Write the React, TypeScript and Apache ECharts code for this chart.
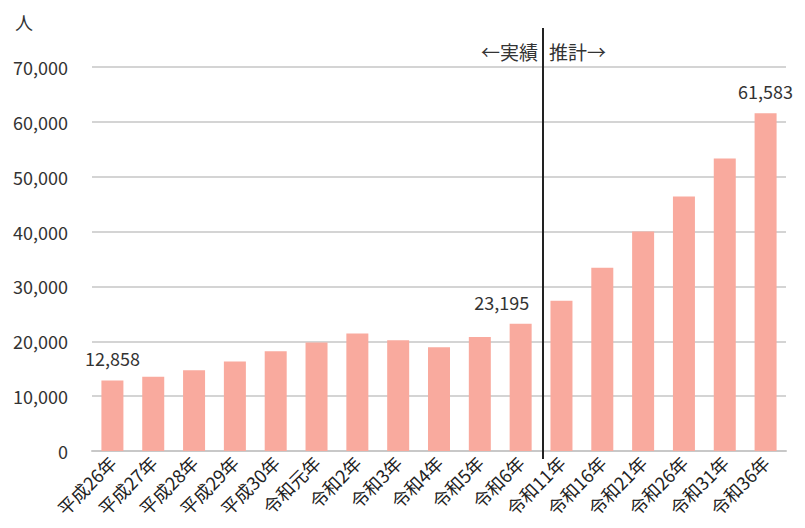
import React, { useEffect, useRef } from "react";
import * as echarts from "echarts";

const categories = [
  "平成26年", "平成27年", "平成28年", "平成29年", "平成30年", "令和元年",
  "令和2年", "令和3年", "令和4年", "令和5年", "令和6年",
  "令和11年", "令和16年", "令和21年", "令和26年", "令和31年", "令和36年",
];
const values = [
  12858, 13550, 14700, 16300, 18200, 19800, 21400, 20200, 18900, 20800, 23195,
  27400, 33400, 40000, 46400, 53300, 61583,
];
const labeledIndices = [0, 10, 16];
const yTicks = { min: 0, max: 70000, interval: 10000 };
const unitLabel = "人";
const actualLabel = "←実績";
const forecastLabel = "推計→";
const lastActualIndex = 10;

const fmt = (v: number) => String(v).replace(/\B(?=(\d{3})+(?!\d))/g, ",");
const FONT = "'Noto Sans CJK JP', 'Noto Sans', sans-serif";

export default function App() {
  const ref = useRef<HTMLDivElement>(null);
  useEffect(() => {
    if (!ref.current) return;
    const chart = echarts.init(ref.current, null, { renderer: "svg" });
    const data = values.map((v, i) => {
      if (!labeledIndices.includes(i)) return v;
      return {
        value: v,
        label: {
          show: true,
          position: "top",
          distance: 13,
          offset: i === lastActualIndex ? [-19, 0] : [0, 0],
          formatter: (p: any) => fmt(p.value),
          fontSize: 18,
          color: "#333",
          fontFamily: FONT,
        },
      };
    });
    chart.setOption({
      animation: false,
      backgroundColor: "#fff",
      grid: { left: 92, right: 19, top: 67, bottom: 77, containLabel: false },
      xAxis: {
        type: "category",
        data: categories,
        axisTick: { show: false },
        axisLine: { lineStyle: { color: "#c8c8c8", width: 2 } },
        axisLabel: {
          rotate: 45,
          interval: 0,
          margin: 8,
          fontSize: 18,
          color: "#222",
          fontFamily: FONT,
        },
      },
      yAxis: {
        type: "value",
        min: yTicks.min,
        max: yTicks.max,
        interval: yTicks.interval,
        axisLine: { show: false },
        axisTick: { show: false },
        splitLine: { lineStyle: { color: "#d4d4d4", width: 2 } },
        axisLabel: {
          margin: 24,
          fontSize: 18,
          color: "#333",
          fontFamily: FONT,
          formatter: (v: number) => fmt(v),
        },
      },
      series: [
        {
          type: "bar",
          data,
          barWidth: 22,
          itemStyle: { color: "#F9AA9E" },
        },
      ],
    });
    const x0 = chart.convertToPixel({ xAxisIndex: 0 }, lastActualIndex) as number;
    const x1 = chart.convertToPixel({ xAxisIndex: 0 }, lastActualIndex + 1) as number;
    const xm = Math.round((x0 + x1) / 2) + 2;
    chart.setOption({
      graphic: [
        {
          type: "text",
          left: 15,
          top: 13,
          style: { text: unitLabel, fontSize: 18, fill: "#333", fontFamily: FONT },
        },
        {
          type: "line",
          shape: { x1: xm, y1: 28, x2: xm, y2: 459 },
          style: { stroke: "#222", lineWidth: 2 },
          z: 10,
        },
        {
          type: "text",
          x: xm - 5,
          y: 51,
          style: {
            text: actualLabel,
            fontSize: 19,
            fill: "#333",
            fontFamily: FONT,
            align: "right",
            verticalAlign: "middle",
          },
        },
        {
          type: "text",
          x: xm + 6,
          y: 51,
          style: {
            text: forecastLabel,
            fontSize: 19,
            fill: "#333",
            fontFamily: FONT,
            align: "left",
            verticalAlign: "middle",
          },
        },
      ],
    });
    return () => chart.dispose();
  }, []);
  return (
    <div
      ref={ref}
      style={{ position: "fixed", left: 0, top: 0, width: 805, height: 528 }}
    />
  );
}
